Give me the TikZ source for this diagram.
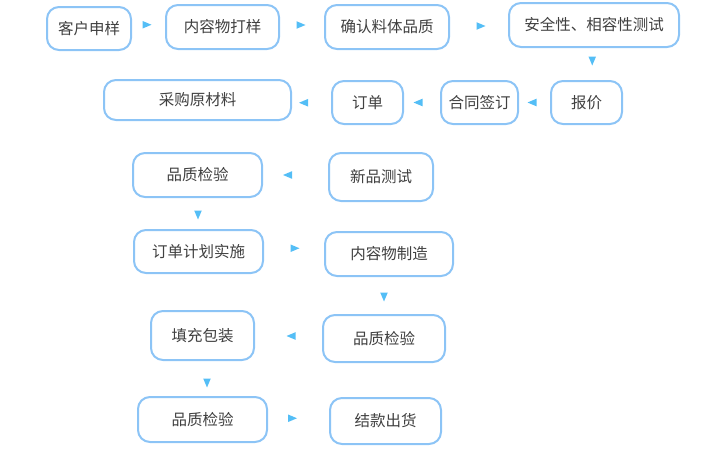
\documentclass[tikz,border=0pt]{standalone}
\usepackage{fontspec}
\newfontfamily\cjk{Noto Sans CJK SC}
\definecolor{boxline}{RGB}{140,196,246}
\definecolor{txt}{RGB}{64,64,64}
\definecolor{trifill}{RGB}{84,190,246}
\tikzset{
  stepbox/.style={draw=boxline, line width=2pt, rounded corners=12pt, fill=white,
    inner sep=0pt, align=center, text=txt, font=\cjk\fontsize{15.5}{18}\selectfont},
  pics/tri/.style={code={\fill[trifill] (-4.5,-3.8) -- (4.5,0) -- (-4.5,3.8) -- cycle;}}
}
\begin{document}
\begin{tikzpicture}[x=1pt,y=-1pt]
\useasboundingbox (0,0) rectangle (720,450);
% row 1
\node[stepbox, minimum width=84pt, minimum height=43pt] (n1) at (89,28.5) {客户申样};
\node[stepbox, minimum width=113pt, minimum height=44pt] (n2) at (222.5,27) {内容物打样};
\node[stepbox, minimum width=124pt, minimum height=44pt] (n3) at (387,27) {确认料体品质};
\node[stepbox, minimum width=170pt, minimum height=44pt] (n4) at (594,25) {安全性、相容性测试};
% row 2
\node[stepbox, minimum width=71pt, minimum height=43pt] (n5) at (586.5,102.5) {报价};
\node[stepbox, minimum width=77pt, minimum height=43pt] (n6) at (479.5,102.5) {合同签订};
\node[stepbox, minimum width=71pt, minimum height=43pt] (n7) at (367.5,102.5) {订单};
\node[stepbox, minimum width=187pt, minimum height=40pt] (n8) at (197.5,100) {采购原材料};
% row 3
\node[stepbox, minimum width=129pt, minimum height=44pt] (n9) at (197.5,175) {品质检验};
\node[stepbox, minimum width=104pt, minimum height=48pt] (n10) at (381,177) {新品测试};
% row 4
\node[stepbox, minimum width=129pt, minimum height=43pt] (n11) at (198.5,251.5) {订单计划实施};
\node[stepbox, minimum width=128pt, minimum height=44pt] (n12) at (389,254) {内容物制造};
% row 5
\node[stepbox, minimum width=103pt, minimum height=49pt] (n14) at (202.5,335.5) {填充包装};
\node[stepbox, minimum width=122pt, minimum height=47pt] (n13) at (384,338.5) {品质检验};
% row 6
\node[stepbox, minimum width=129pt, minimum height=45pt] (n15) at (202.5,419.5) {品质检验};
\node[stepbox, minimum width=111pt, minimum height=46pt] (n16) at (385.5,421) {结款出货};
% connectors (marked only by small triangles)
\path (n1.east) -- coordinate[midway, xshift=-1.5pt, yshift=3pt] (t1) (n2.west);
\path (n2.east) -- coordinate[midway, xshift=-1pt, yshift=2pt] (t2) (n3.west);
\path (n3.east) -- coordinate[midway, xshift=2pt] (t3) (n4.west);
\path (n4.south) -- coordinate[midway, xshift=2pt, yshift=3pt] (t4) (n5.north);
\path (n5.west) -- coordinate[midway, xshift=-2.5pt] (t5) (n6.east);
\path (n6.west) -- coordinate[midway, xshift=-4pt] (t6) (n7.east);
\path (n7.west) -- coordinate[midway, xshift=-8pt, yshift=-1.5pt] (t7) (n8.east);
\path (n10.west) -- coordinate[midway, xshift=-8pt, yshift=1pt] (t8) (n9.east);
\path (n9.south) -- coordinate[midway, yshift=-1.5pt] (t9) (n11.north);
\path (n11.east) -- coordinate[midway, xshift=1pt, yshift=4.5pt] (t10) (n12.west);
\path (n12.south) -- coordinate[midway, xshift=-2.5pt, yshift=-1.5pt] (t11) (n13.north);
\path (n13.west) -- coordinate[midway, xshift=2.5pt, yshift=1pt] (t12) (n14.east);
\path (n14.south) -- coordinate[midway, xshift=4.5pt, yshift=-4.5pt] (t13) (n15.north);
\path (n15.east) -- coordinate[midway, xshift=-6pt, yshift=2pt] (t14) (n16.west);
\pic at (t1) {tri};
\pic at (t2) {tri};
\pic at (t3) {tri};
\pic[rotate=-90] at (t4) {tri};
\pic[rotate=180] at (t5) {tri};
\pic[rotate=180] at (t6) {tri};
\pic[rotate=180] at (t7) {tri};
\pic[rotate=180] at (t8) {tri};
\pic[rotate=-90] at (t9) {tri};
\pic at (t10) {tri};
\pic[rotate=-90] at (t11) {tri};
\pic[rotate=180] at (t12) {tri};
\pic[rotate=-90] at (t13) {tri};
\pic at (t14) {tri};
\end{tikzpicture}
\end{document}
